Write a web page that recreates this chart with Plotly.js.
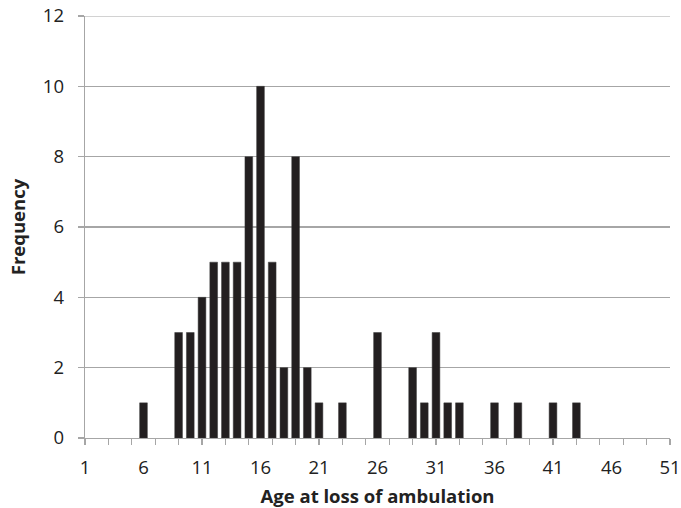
<!DOCTYPE html>
<html>
<head>
<meta charset="utf-8">
<script src="https://cdn.plot.ly/plotly-3.0.1.min.js"></script>
<style>html,body{margin:0;padding:0;background:#fff;}#chart{width:681px;height:508px;}</style>
</head>
<body>
<div id="chart"></div>
<script>
var ages = [6, 9, 10, 11, 12, 13, 14, 15, 16, 17, 18, 19, 20, 21, 23, 26, 29, 30, 31, 32, 33, 36, 38, 41, 43];
var frequency = [1, 3, 3, 4, 5, 5, 5, 8, 10, 5, 2, 8, 2, 1, 1, 3, 2, 1, 3, 1, 1, 1, 1, 1, 1];
var xTickLabels = ['1', '6', '11', '16', '21', '26', '31', '36', '41', '46', '51'];
var xTickVals = xTickLabels.map(Number);

var font = "'Open Sans', 'Liberation Sans', sans-serif";
var gray = '#a6a6a6';

var trace = {
  type: 'bar',
  x: ages,
  y: frequency,
  width: 0.66,
  marker: {color: '#231f20', line: {color: '#3a3a3a', width: 0.5}},
  hoverinfo: 'x+y'
};
var tickTrace = {
  type: 'scatter', mode: 'markers', x: [1], y: [0], xaxis: 'x2', yaxis: 'y',
  marker: {opacity: 0}, hoverinfo: 'skip', showlegend: false
};

var layout = {
  width: 681, height: 508,
  margin: {l: 85, r: 11, t: 16, b: 70},
  paper_bgcolor: '#ffffff', plot_bgcolor: '#ffffff',
  showlegend: false,
  font: {family: font, color: '#222222', size: 18.5},
  shapes: [{type: 'line', xref: 'paper', x0: 0, x1: 1, yref: 'y', y0: 12, y1: 12,
            line: {color: gray, width: 1.2}, layer: 'below'}],
  xaxis: {
    range: [1, 51],
    tickmode: 'array', tickvals: xTickVals, ticktext: xTickLabels,
    ticks: '', showgrid: false, zeroline: false,
    showline: true, linecolor: gray, linewidth: 1.3,
    ticklabelstandoff: 12,
    tickfont: {size: 18.5, color: '#222'},
    title: {text: '<b>Age at loss of ambulation</b>', font: {size: 18.5, color: '#222'}, standoff: 12},
    fixedrange: true
  },
  xaxis2: {
    overlaying: 'x', anchor: 'y', side: 'bottom',
    range: [1, 51], tickmode: 'linear', tick0: 1, dtick: 2,
    ticks: 'outside', ticklen: 6, tickcolor: gray, tickwidth: 1.3,
    showticklabels: false, showgrid: false, zeroline: false, showline: false,
    fixedrange: true
  },
  yaxis: {
    range: [0, 12], tickmode: 'linear', tick0: 0, dtick: 2,
    ticks: 'outside', ticklen: 6, tickcolor: gray, tickwidth: 1.3,
    showgrid: true, gridcolor: gray, gridwidth: 1.2,
    zeroline: false, showline: true, linecolor: gray, linewidth: 1.3,
    ticklabelstandoff: 10,
    tickfont: {size: 18.5, color: '#222'},
    title: {text: '<b>Frequency</b>', font: {size: 18.5, color: '#222'}, standoff: 12},
    fixedrange: true
  }
};

Plotly.newPlot('chart', [trace, tickTrace], layout, {displayModeBar: false, staticPlot: true});
</script>
</body>
</html>
